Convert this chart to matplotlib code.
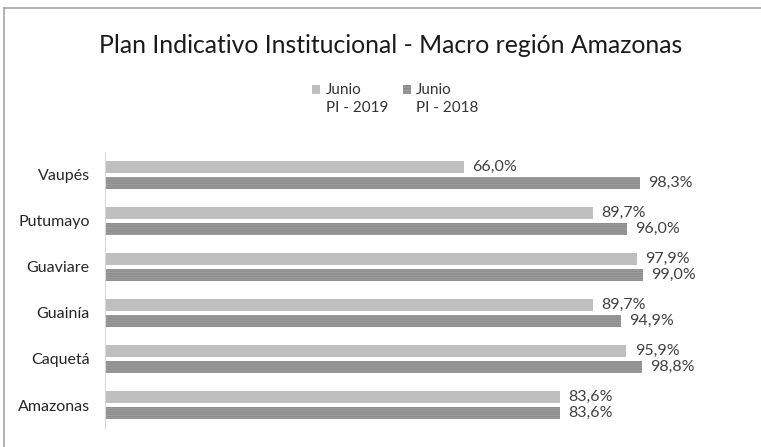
import matplotlib
matplotlib.use("Agg")
import matplotlib.pyplot as plt
import numpy as np
from matplotlib.patches import Rectangle
from matplotlib.lines import Line2D

# data (bottom to top as drawn)
regions = ["Amazonas", "Caquetá", "Guainía", "Guaviare", "Putumayo", "Vaupés"]
pi_2019 = [83.6, 95.9, 89.7, 97.9, 89.7, 66.0]
pi_2018 = [83.6, 98.8, 94.9, 99.0, 96.0, 98.3]
series_labels = ["Junio\nPI - 2019", "Junio\nPI - 2018"]
title = "Plan Indicativo Institucional - Macro región Amazonas"

plt.rcParams["font.family"] = ["Lato", "DejaVu Sans"]

light = "#bfbfbf"
dark = "#8e8e8e"
hatch_col = "#a4a4a4"
plt.rcParams["hatch.linewidth"] = 0.5

fig = plt.figure(figsize=(7.61, 4.47), dpi=100)
ax = fig.add_axes([0.138, 0.0425, 0.786, 0.6175])

y = np.arange(len(regions))
h = 0.28
off = 0.174

b1 = ax.barh(y + off, pi_2019, height=h, color=light, linewidth=0)
b2 = ax.barh(y - off, pi_2018, height=h, color=dark, edgecolor=hatch_col,
             hatch="-------", linewidth=0)

for bars, vals in ((b1, pi_2019), (b2, pi_2018)):
    for bar, v in zip(bars, vals):
        ax.text(bar.get_width() + 1.5, bar.get_y() + bar.get_height() / 2,
                f"{v:.1f}%".replace(".", ","), va="center", ha="left",
                fontsize=11.5, color="#404040")

ax.set_xlim(0, 110)
ax.set_ylim(-0.5, len(regions) - 0.5)
ax.set_yticks(y)
ax.set_yticklabels(regions, fontsize=11.5, color="#262626")
ax.tick_params(axis="y", length=0, pad=11)
ax.set_xticks([])
for s in ("top", "right", "bottom"):
    ax.spines[s].set_visible(False)
ax.spines["left"].set_color("#d9d9d9")
ax.spines["left"].set_linewidth(0.8)

# title
fig.text(0.513, 0.899, title, ha="center", va="center", fontsize=17.8, color="#1a1a1a")

# legend drawn by hand so the square sits next to the first line
legend_x = [0.41, 0.529]
for lx, lab, col, hatch in zip(legend_x, series_labels, [light, dark], [None, "------"]):
    fig.add_artist(Rectangle((lx, 0.79), 0.0105, 0.02, transform=fig.transFigure,
                             facecolor=col, edgecolor=hatch_col if hatch else "none",
                             hatch=hatch, linewidth=0))
    fig.text(lx + 0.018, 0.815, lab, ha="left", va="top", fontsize=11,
             color="#333333", linespacing=1.4)

# chart border (top and left visible)
fig.add_artist(Line2D([0.005, 1.0], [0.982, 0.982], transform=fig.transFigure,
                      color="#a6a6a6", linewidth=1.2))
fig.add_artist(Line2D([0.005, 0.005], [0.0, 0.982], transform=fig.transFigure,
                      color="#a6a6a6", linewidth=1.2))

fig.savefig("out.png", dpi=100)
